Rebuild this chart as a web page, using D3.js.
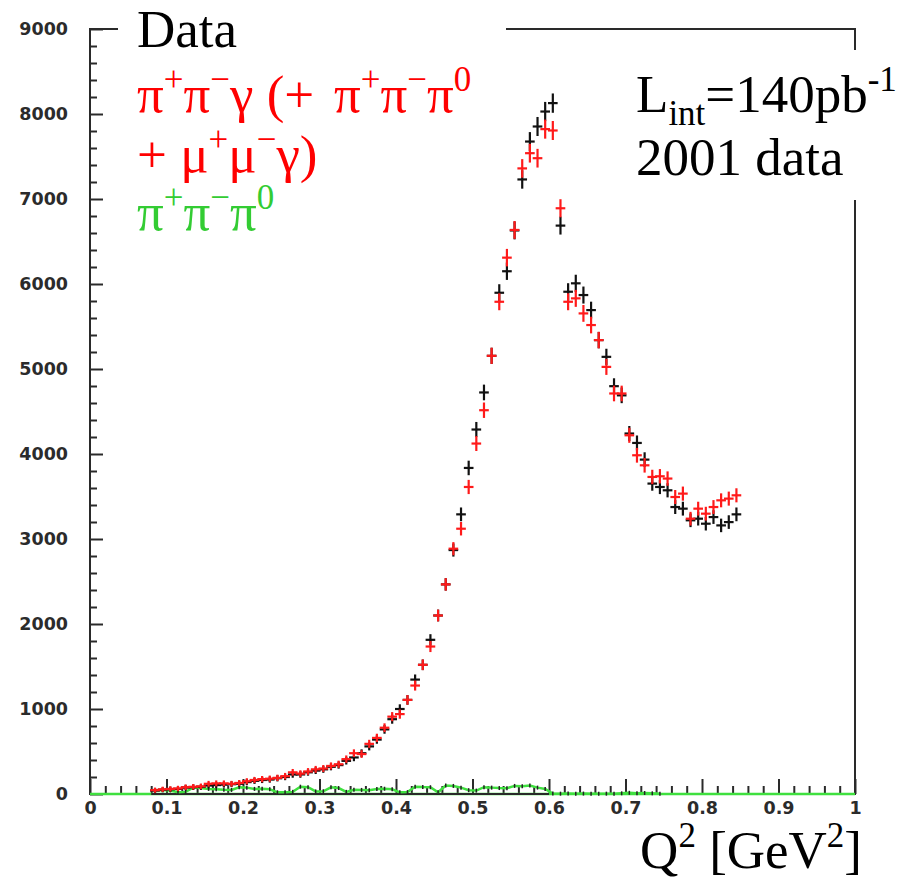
<!DOCTYPE html>
<html>
<head>
<meta charset="utf-8">
<script src="https://cdn.jsdelivr.net/npm/d3@7"></script>
<style>
  html, body { margin: 0; padding: 0; background: #fff; }
  svg { display: block; }
</style>
</head>
<body>
<svg id="chart" width="900" height="882"></svg>
<script>
// Q^2 bin centres [GeV^2], 0.01 wide bins
const binCenters = [
  0.085,0.095,0.105,0.115,0.125,0.135,0.145,0.155,0.165,0.175,
  0.185,0.195,0.205,0.215,0.225,0.235,0.245,0.255,0.265,0.275,
  0.285,0.295,0.305,0.315,0.325,0.335,0.345,0.355,0.365,0.375,
  0.385,0.395,0.405,0.415,0.425,0.435,0.445,0.455,0.465,0.475,
  0.485,0.495,0.505,0.515,0.525,0.535,0.545,0.555,0.565,0.575,
  0.585,0.595,0.605,0.615,0.625,0.635,0.645,0.655,0.665,0.675,
  0.685,0.695,0.705,0.715,0.725,0.735,0.745,0.755,0.765,0.775,
  0.785,0.795,0.805,0.815,0.825,0.835,0.845
];
const binWidth = 0.01;

// Measured events per bin (2001 data)
const dataCounts = [
  40,50,55,60,75,80,85,100,105,110,
  115,120,140,155,165,170,185,200,230,230,
  255,275,290,320,340,390,430,480,560,640,
  760,880,1000,1107,1346,1520,1814,2100,2466,2870,
  3290,3836,4288,4724,5155,5897,6150,6630,7230,7676,
  7853,8029,8128,6687,5909,6008,5870,5693,5340,5143,
  4798,4690,4241,4130,3934,3652,3612,3573,3376,3357,
  3220,3239,3180,3258,3160,3199,3290
];

// Simulated pi+pi-gamma (+ pi+pi-pi0 + mu+mu-gamma)
const mcCounts = [
  45,55,60,65,80,85,90,120,125,125,
  120,130,150,165,175,180,190,210,255,240,
  265,290,300,330,350,410,480,470,590,660,
  780,910,940,1107,1276,1520,1735,2100,2466,2886,
  3121,3612,4123,4515,5155,5791,6310,6636,7360,7539,
  7480,7822,7806,6891,5791,5831,5654,5517,5340,5025,
  4712,4712,4220,3985,3867,3730,3738,3711,3494,3534,
  3239,3357,3298,3376,3455,3475,3514
];

// Simulated pi+pi-pi0 background, bins 0.085 ... 0.745
const bkgCounts = [
  45,48,42,20,25,75,70,60,55,50,
  48,78,75,60,62,55,20,22,25,86,
  80,30,32,78,70,25,50,48,45,60,
  62,55,20,22,86,82,80,20,100,95,
  75,45,40,80,75,70,68,95,90,100,
  75,60,5,4,6,3,5,4,3,4,
  2,8,14,10,12,8,4
];

const xMajorTicks = [0,0.1,0.2,0.3,0.4,0.5,0.6,0.7,0.8,0.9,1];
const xTickLabels = ["0","0.1","0.2","0.3","0.4","0.5","0.6","0.7","0.8","0.9","1"];
const yMajorTicks = [0,1000,2000,3000,4000,5000,6000,7000,8000,9000];

const svg = d3.select("#chart");
const plotLeft = 90, plotRight = 855, plotTop = 29, plotBottom = 794;

const x = d3.scaleLinear().domain([0, 1]).range([plotLeft, plotRight]);
const y = d3.scaleLinear().domain([0, 9000]).range([plotBottom, plotTop]);

const axisColor = "#2a2a2a";
const tickFont = "'DejaVu Sans', sans-serif";

// minor ticks
const xMinor = d3.range(0, 1.0001, 0.02).filter(v => Math.abs(v * 10 - Math.round(v * 10)) > 1e-6);
const yMinor = d3.range(0, 9001, 200).filter(v => v % 1000 !== 0);

const gx = svg.append("g").attr("transform", `translate(0,${plotBottom})`);
gx.call(d3.axisBottom(x).tickValues(xMinor).tickSize(-8).tickSizeOuter(0).tickFormat(""));
gx.select(".domain").remove();
const gx2 = svg.append("g").attr("transform", `translate(0,${plotBottom})`);
gx2.call(d3.axisBottom(x).tickValues(xMajorTicks).tickSize(-15).tickSizeOuter(0)
  .tickPadding(8).tickFormat((d, i) => xTickLabels[i]));
gx2.select(".domain").remove();

const gy = svg.append("g").attr("transform", `translate(${plotLeft},0)`);
gy.call(d3.axisLeft(y).tickValues(yMinor).tickSize(-7).tickSizeOuter(0).tickFormat(""));
gy.select(".domain").remove();
const gy2 = svg.append("g").attr("transform", `translate(${plotLeft},0)`);
gy2.call(d3.axisLeft(y).tickValues(yMajorTicks).tickSize(-13).tickSizeOuter(0)
  .tickPadding(22).tickFormat(d3.format("d")));
gy2.select(".domain").remove();

svg.selectAll(".tick line").attr("stroke", axisColor).attr("stroke-width", 2);
svg.selectAll(".tick text").attr("font-family", tickFont).attr("font-size", 17.5)
  .attr("font-weight", "bold").attr("fill", "#2b2b2b");

// frame
svg.append("rect")
  .attr("x", plotLeft).attr("y", plotTop)
  .attr("width", plotRight - plotLeft).attr("height", plotBottom - plotTop)
  .attr("fill", "none").attr("stroke", axisColor).attr("stroke-width", 2);

// pi+pi-pi0 background: zero line and binned curve
const green = "#3fe03f";
svg.append("line")
  .attr("x1", x(0)).attr("x2", x(1)).attr("y1", y(0)).attr("y2", y(0))
  .attr("stroke", green).attr("stroke-width", 2.5);
svg.append("line")
  .attr("x1", x(0.08)).attr("x2", x(0.6)).attr("y1", y(0)).attr("y2", y(0))
  .attr("stroke", axisColor).attr("stroke-width", 2);

const bkg = bkgCounts.map((v, i) => ({ q: binCenters[i], v }));
svg.append("path")
  .datum(bkg)
  .attr("fill", "none")
  .attr("stroke", green)
  .attr("stroke-width", 2.5)
  .attr("d", d3.line().x(d => x(d.q)).y(d => y(d.v)));
svg.append("g").selectAll("line")
  .data(bkg)
  .join("line")
  .attr("x1", d => x(d.q)).attr("x2", d => x(d.q))
  .attr("y1", d => y(d.v) - 2).attr("y2", d => y(d.v) + 2)
  .attr("stroke", "#222").attr("stroke-width", 1.5);

// crosses: horizontal bar = bin width, vertical bar = statistical error
function drawCrosses(counts, color) {
  const pts = counts.map((v, i) => ({ q: binCenters[i], v, e: Math.sqrt(v) }));
  const g = svg.append("g").attr("stroke", color).attr("stroke-width", 2.2);
  g.selectAll("line.h").data(pts).join("line").attr("class", "h")
    .attr("x1", d => x(d.q - binWidth / 2) - 1).attr("x2", d => x(d.q + binWidth / 2) + 1)
    .attr("y1", d => y(d.v)).attr("y2", d => y(d.v));
  g.selectAll("line.v").data(pts).join("line").attr("class", "v")
    .attr("x1", d => x(d.q)).attr("x2", d => x(d.q))
    .attr("y1", d => y(d.v + d.e) - 2).attr("y2", d => y(d.v - d.e) + 2);
}
drawCrosses(dataCounts, "#111");
drawCrosses(mcCounts, "#ff1a1a");

// text boxes
svg.append("rect").attr("x", 118).attr("y", 12).attr("width", 388).attr("height", 232).attr("fill", "#fff");
svg.append("rect").attr("x", 625).attr("y", 50).attr("width", 275).attr("height", 150).attr("fill", "#fff");

const serif = "'Liberation Serif', 'Times New Roman', serif";

// rich text with sup/sub pieces; a piece may carry its own x start
function richText(xPos, yPos, parts, color, size, anchor) {
  const t = svg.append("text")
    .attr("x", xPos).attr("y", yPos)
    .attr("font-family", serif).attr("font-size", size)
    .attr("fill", color).attr("text-anchor", anchor || "start");
  let shift = 0;
  parts.forEach(p => {
    const s = typeof p === "string" ? { t: p } : p;
    let target = 0, fs = size;
    if (s.sup) { target = -size * 0.4; fs = size * 0.66; }
    if (s.sub) { target = size * 0.25; fs = size * 0.66; }
    const ts = t.append("tspan").attr("dy", target - shift).attr("font-size", fs).text(s.t);
    if (s.x !== undefined) ts.attr("x", s.x);
    shift = target;
  });
  return t;
}

const L = 53;
richText(137, 47, ["Data"], "#000", L);
richText(137, 112, ["π", { t: "+", sup: 1 }, "π", { t: "−", sup: 1 }, "γ (+",
  { t: "π", x: 334 }, { t: "+", sup: 1 }, "π", { t: "−", sup: 1 }, "π", { t: "0", sup: 1 }], "#ff0000", L);
richText(137, 172, ["+ μ", { t: "+", sup: 1 }, "μ", { t: "−", sup: 1 }, "γ)"], "#ff0000", L);
richText(137, 230, ["π", { t: "+", sup: 1 }, "π", { t: "−", sup: 1 }, "π", { t: "0", sup: 1 }], "#33cc33", L);

richText(636, 112, ["L", { t: "int", sub: 1 }, "=140pb", { t: "-1", sup: 1 }], "#000", L);
richText(636, 175, ["2001 data"], "#000", L);

// axis title
richText(862, 868, ["Q", { t: "2", sup: 1 }, " [GeV", { t: "2", sup: 1 }, "]"], "#000", L, "end");
</script>
</body>
</html>
